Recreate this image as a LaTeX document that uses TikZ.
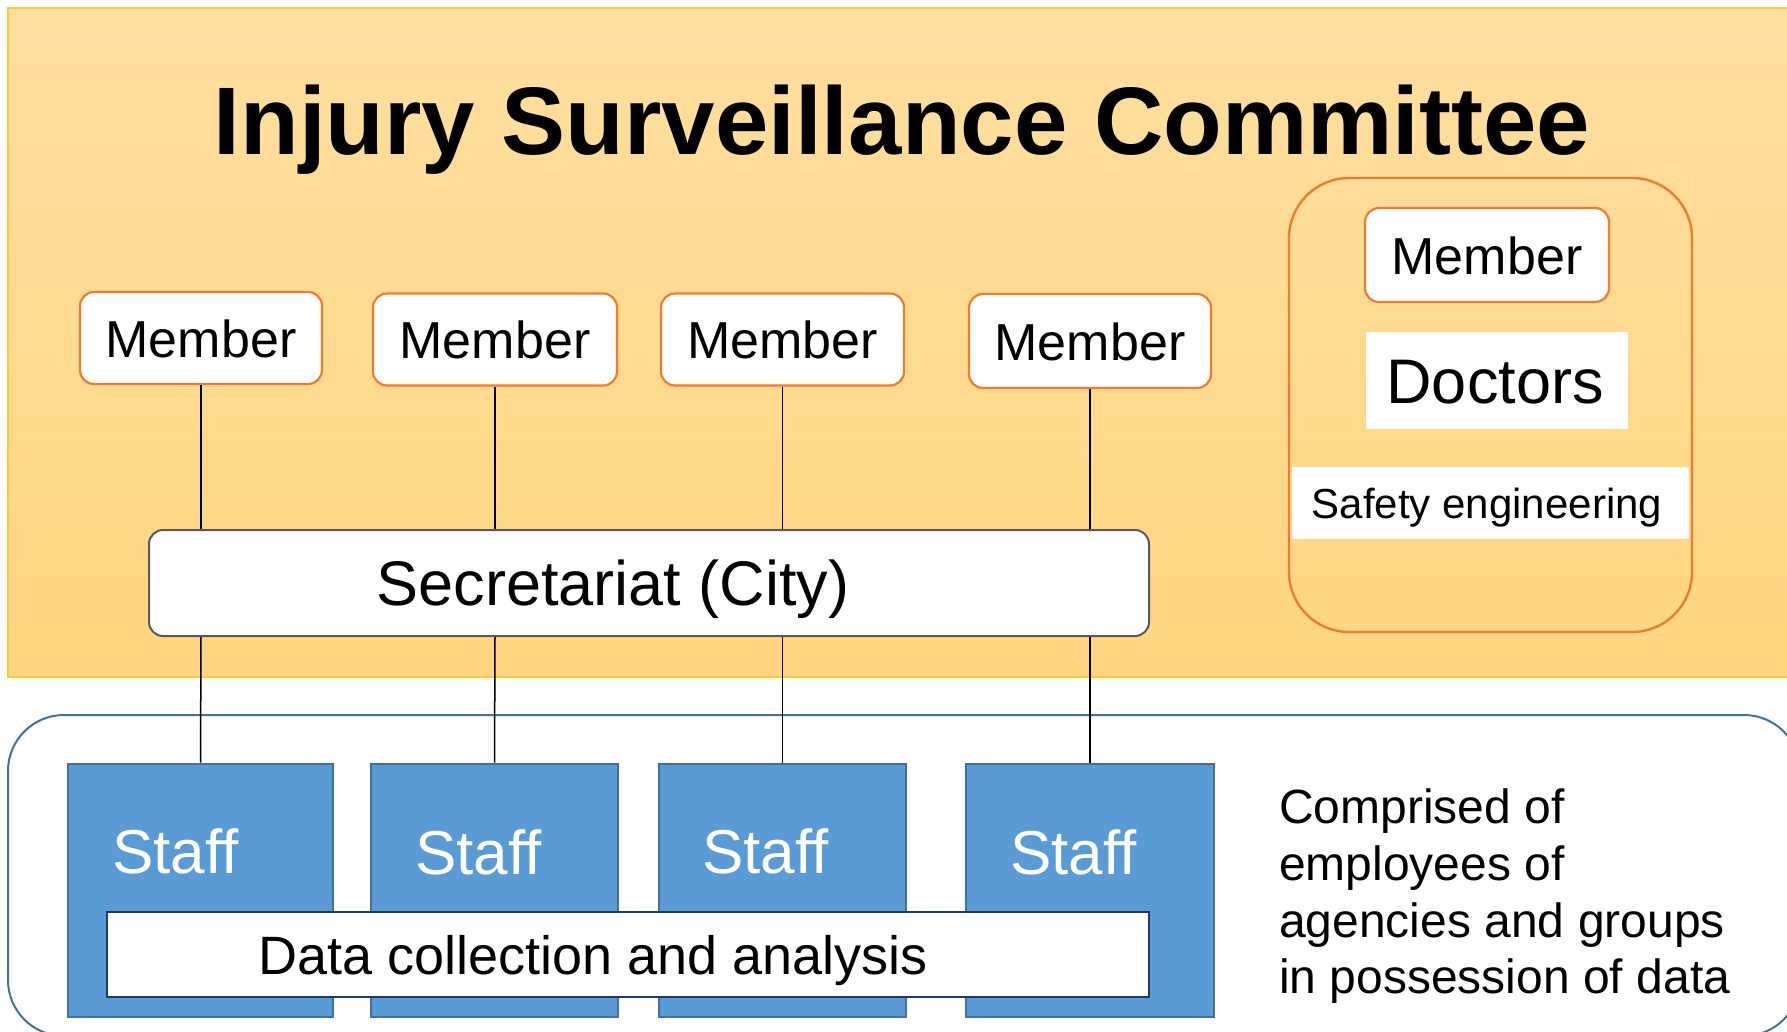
\documentclass[tikz,border=0pt]{standalone}
\usepackage{fontspec}
\setmainfont{Liberation Sans}
\definecolor{yelTop}{RGB}{255,223,160}
\definecolor{yelBot}{RGB}{255,213,128}
\definecolor{yelEdge}{RGB}{255,200,60}
\definecolor{orng}{RGB}{237,125,49}
\definecolor{bluF}{RGB}{91,155,213}
\definecolor{bluE}{RGB}{65,113,156}
\definecolor{navy}{RGB}{31,56,100}
\definecolor{secE}{RGB}{89,89,89}
\begin{document}
\begin{tikzpicture}[x=1pt,y=-1pt,
  membox/.style={draw=orng, line width=2.2pt, fill=white, rounded corners=14pt,
    minimum height=92pt, inner sep=0pt, font=\fontsize{52}{60}\selectfont,
    text height=38pt, text depth=0pt},
  staffbox/.style={draw=bluE, line width=2pt, fill=bluF, minimum height=253pt, inner sep=0pt},
  stafftext/.style={anchor=base west, inner sep=0pt, text=white, font=\fontsize{62}{70}\selectfont},
  whitebox/.style={fill=white, inner sep=0pt},
  conn/.style={line width=1.5pt, black},
  txt/.style={inner sep=0pt, anchor=base}
]
\useasboundingbox (0,0) rectangle (1787,1032);
\clip (0,0) rectangle (1787,1032);

% top panel
\shade[top color=yelTop, bottom color=yelBot] (8,8) rectangle (1800,677);
\draw[yelEdge, line width=1.5pt] (1800,8) -- (8,8) -- (8,677) -- (1800,677);

% bottom container
\draw[bluE, line width=2pt, fill=white, rounded corners=56pt] (8,715) rectangle (1800,1036);

% title
\node[txt, font=\fontsize{96}{110}\selectfont\bfseries] (title) at (902,155) {Injury Surveillance Committee};

% right group
\draw[orng, line width=2.4pt, rounded corners=60pt] (1289,178) rectangle (1692,632);
\node[membox, minimum width=244pt, minimum height=94pt] (mr) at (1487,255) {Member};
\node[whitebox, minimum width=262pt, minimum height=97pt] (doc) at (1497,380.5) {};
\node[txt, font=\fontsize{63}{70}\selectfont] (doct) at (1495,403) {Doctors};
\node[whitebox, minimum width=397pt, minimum height=72pt] (saf) at (1490.5,503) {};
\node[txt, font=\fontsize{42}{50}\selectfont] (saft) at (1487,518) {Safety engineering};

% members
\node[membox, minimum width=242pt] (m1) at (201,338) {Member};
\node[membox, minimum width=244pt] (m2) at (495,339.5) {Member};
\node[membox, minimum width=243pt] (m3) at (782.5,339.5) {Member};
\node[membox, minimum width=242pt, minimum height=94pt] (m4) at (1090,341) {Member};

% staff
\node[staffbox, minimum width=265pt] (s1) at (200.5,890) {};
\node[staffbox, minimum width=247pt] (s2) at (494.5,890) {};
\node[staffbox, minimum width=247pt] (s3) at (782.5,890) {};
\node[staffbox, minimum width=248pt] (s4) at (1090,890) {};
\node[stafftext] (st1) at (112,873) {Staff};
\node[stafftext] (st2) at (415,874) {Staff};
\node[stafftext] (st3) at (702,873) {Staff};
\node[stafftext] (st4) at (1010,874) {Staff};

% secretariat
\node[draw=secE, line width=2pt, fill=white, rounded corners=14pt, minimum width=1000pt, minimum height=106pt, inner sep=0pt] (sec) at (649,583) {};
\node[txt, font=\fontsize{63}{70}\selectfont] (sect) at (613,605) {Secretariat (City)};

% connectors
\foreach \i in {1,2,3,4}{
  \draw[conn] (m\i.south) -- (m\i.south |- sec.north);
  \draw[conn] (m\i.south |- sec.south) -- (s\i.north);
}

% data collection
\node[draw=navy, line width=2pt, fill=white, minimum width=1042pt, minimum height=85pt, inner sep=0pt] (data) at (628,954.5) {};
\node[txt, font=\fontsize{54}{60}\selectfont] (datat) at (593,974) {Data collection and analysis};

% description
\node[txt, anchor=base west, font=\fontsize{48}{57}\selectfont] (d1) at (1279,823) {Comprised of};
\node[txt, anchor=base west, font=\fontsize{48}{57}\selectfont] (d2) at (1279,880) {employees of};
\node[txt, anchor=base west, font=\fontsize{48}{57}\selectfont] (d3) at (1279,937) {agencies and groups};
\node[txt, anchor=base west, font=\fontsize{48}{57}\selectfont] (d4) at (1279,993) {in possession of data};
\end{tikzpicture}
\end{document}
